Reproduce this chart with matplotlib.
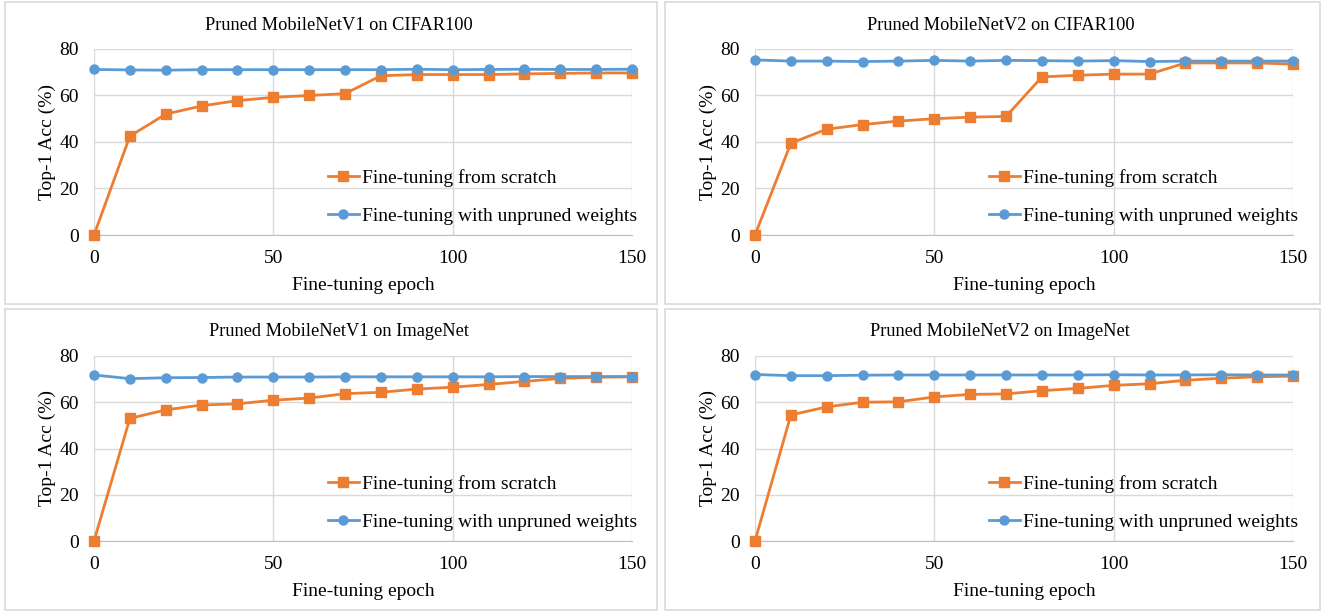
import numpy as np
import matplotlib.pyplot as plt
from matplotlib.patches import Rectangle

plt.rcParams['font.family'] = 'Liberation Serif'
plt.rcParams['font.size'] = 14

epochs = list(range(0, 151, 10))

titles = ['Pruned MobileNetV1 on CIFAR100', 'Pruned MobileNetV2 on CIFAR100',
          'Pruned MobileNetV1 on ImageNet', 'Pruned MobileNetV2 on ImageNet']

# fine-tuning from scratch
scratch_v1_cifar = [0, 42.5, 52, 55.5, 57.8, 59.2, 60, 60.8, 68.5, 69, 69, 69, 69.3, 69.5, 69.7, 69.7]
scratch_v2_cifar = [0, 39.5, 45.5, 47.5, 49, 50, 50.7, 51, 68, 68.7, 69.2, 69.2, 74, 74, 74, 73.5]
scratch_v1_imnet = [0, 53, 56.7, 58.8, 59.3, 60.9, 61.8, 63.7, 64.3, 65.7, 66.5, 67.7, 69, 70.3, 70.8, 71.0]
scratch_v2_imnet = [0, 54.5, 58, 60, 60.2, 62.3, 63.4, 63.6, 65, 66, 67.3, 68, 69.5, 70.4, 71, 71.3]

# fine-tuning with unpruned weights
unpruned_v1_cifar = [71.2, 71.0, 70.9, 71.1, 71.1, 71.1, 71.1, 71.1, 71.1, 71.3, 71.1, 71.2, 71.3, 71.2, 71.2, 71.3]
unpruned_v2_cifar = [75.3, 74.8, 74.8, 74.6, 74.8, 75.1, 74.8, 75.1, 75.0, 74.8, 75.0, 74.6, 74.8, 74.8, 74.8, 74.8]
unpruned_v1_imnet = [71.8, 70.2, 70.6, 70.7, 70.9, 70.9, 70.9, 71, 71, 71, 71, 71, 71.1, 71.1, 71.1, 71.1]
unpruned_v2_imnet = [72, 71.5, 71.5, 71.7, 71.8, 71.8, 71.8, 71.8, 71.8, 71.8, 71.9, 71.8, 71.8, 71.9, 71.8, 71.8]

scratch = [scratch_v1_cifar, scratch_v2_cifar, scratch_v1_imnet, scratch_v2_imnet]
unpruned = [unpruned_v1_cifar, unpruned_v2_cifar, unpruned_v1_imnet, unpruned_v2_imnet]

W, H = 1322, 611
fig = plt.figure(figsize=(W/100, H/100), dpi=100)

# pixel boxes [left, top, right, bottom] of plot areas and panel frames
axboxes = [(94, 49, 632, 235), (755, 49, 1293, 235), (94, 356, 632, 541), (755, 356, 1293, 541)]
frames = [(5, 2, 657, 304), (665, 2, 1320, 304), (5, 309, 657, 610), (665, 309, 1320, 610)]

for fr in frames:
    l, t, r, b = fr
    fig.patches.append(Rectangle((l/W, 1-b/H), (r-l)/W, (b-t)/H, transform=fig.transFigure,
                                 fill=False, edgecolor='#d9d9d9', lw=1.2))

for i in range(4):
    l, t, r, b = axboxes[i]
    ax = fig.add_axes([l/W, 1-b/H, (r-l)/W, (b-t)/H])
    ax.plot(epochs, scratch[i], color='#ed7d31', marker='s', ms=6.5, lw=2, label='Fine-tuning from scratch', zorder=3)
    ax.plot(epochs, unpruned[i], color='#5b9bd5', marker='o', ms=6.5, lw=2, label='Fine-tuning with unpruned weights', zorder=3)
    ax.set_xlim(0, 150)
    ax.set_ylim(0, 80)
    ax.set_xticks([0, 50, 100, 150])
    ax.set_yticks([0, 20, 40, 60, 80])
    ax.grid(True, color='#d9d9d9', lw=1)
    ax.set_axisbelow(True)
    for s in ['top', 'right', 'left']:
        ax.spines[s].set_visible(False)
    ax.spines['bottom'].set_color('#bfbfbf')
    ax.tick_params(axis='x', length=0, pad=11)
    ax.tick_params(axis='y', length=0, pad=11)
    # title centred on the panel frame like excel does
    fl, ft, fr_, fb = frames[i]
    fig.text((fl+fr_)/2/W + 0.006, 1-(ft+23)/H, titles[i], ha='center', va='center', fontsize=13.2)
    ax.set_xlabel('Fine-tuning epoch', labelpad=7)
    ax.set_ylabel('Top-1 Acc (%)', labelpad=2)
    ax.legend(loc='lower left', bbox_to_anchor=(0.416, 0.0), frameon=False,
              labelspacing=1.05, handlelength=1.6, handletextpad=0.15, borderpad=0)
    for ln in ax.lines:
        ln.set_clip_on(False)

fig.savefig('out.png', dpi=100, facecolor='white')
